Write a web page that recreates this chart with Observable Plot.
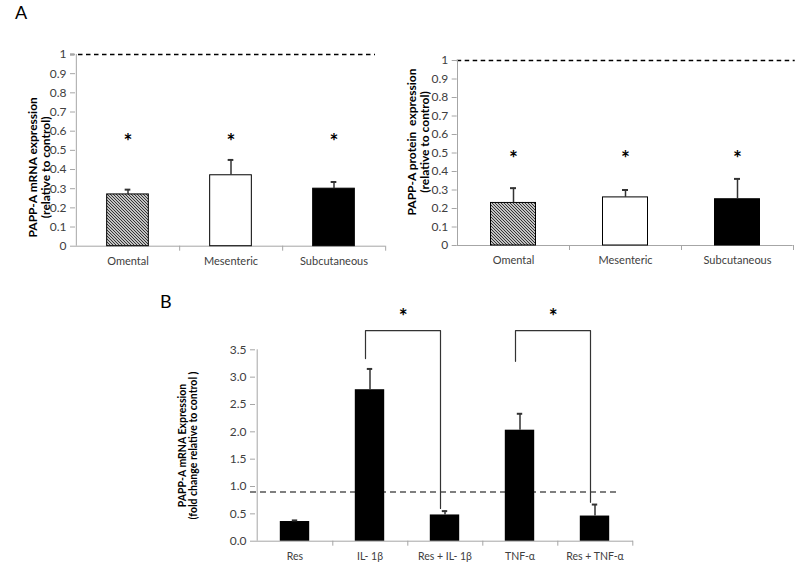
<!DOCTYPE html>
<html><head><meta charset="utf-8">
<script src="https://cdn.jsdelivr.net/npm/d3@7"></script>
<script src="https://cdn.jsdelivr.net/npm/@observablehq/plot@0.6"></script>
<style>
body{margin:0;background:#fff;}
#wrap{position:relative;width:800px;height:571px;font-family:Lato,"Noto Sans",sans-serif;background:#fff;overflow:hidden;}
.panel{position:absolute;}
.lab{position:absolute;font-size:18px;line-height:18px;color:#000;}
</style></head><body>
<div id="wrap">
  <div class="lab" style="left:15px;top:3px;">A</div>
  <div class="lab" style="left:160px;top:292px;">B</div>
</div>
<script>
// ---- data ----
const tissues = ["Omental", "Mesenteric", "Subcutaneous"];
const mrnaMean = [0.27, 0.37, 0.30];
const mrnaErr = [0.025, 0.08, 0.035];
const proteinMean = [0.23, 0.26, 0.25];
const proteinErr = [0.08, 0.04, 0.11];
const yTicksA = [0, 0.1, 0.2, 0.3, 0.4, 0.5, 0.6, 0.7, 0.8, 0.9, 1];

const treatments = ["Res", "IL- 1β", "Res + IL- 1β", "TNF-α", "Res + TNF-α"];
const foldMean = [0.36, 2.77, 0.48, 2.03, 0.46];
const foldErr = [0.02, 0.38, 0.07, 0.30, 0.21];
const yTicksB = [0, 0.5, 1.0, 1.5, 2.0, 2.5, 3.0, 3.5];
const bracketFrom = ["IL- 1β", "TNF-α"];
const bracketTo = ["Res + IL- 1β", "Res + TNF-α"];
const bracketStartY = [3.34, 3.29];
const bracketEndY = [0.60, 0.71];
const bracketTopY = 3.85;
const starYB = 4.1;
const referenceA = 1;
const referenceB = 0.9;

const FONT = "Lato, 'Noto Sans', sans-serif";
const wrap = document.getElementById("wrap");

function addHatch(svg, id) {
  d3.select(svg).insert("defs", ":first-child").html(
    `<pattern id="${id}" width="3" height="3" patternUnits="userSpaceOnUse">` +
    `<rect width="3" height="3" fill="#fff"/>` +
    `<path d="M-1,-1 L4,4 M-1,2 L1,4 M2,-1 L4,1" stroke="#2a2a2a" stroke-width="1.1"/></pattern>`);
}

function place(node, left, top) {
  node.classList.add("panel");
  node.style.left = left + "px";
  node.style.top = top + "px";
  wrap.appendChild(node);
}

function panelA({means, errs, hatchId, left, width, height, mL, mR, mT, mB, title, titleDx, titleDy, starY, barW, dashInsetL, dashInsetR}) {
  const data = tissues.map((t, i) => ({t, v: means[i], e: errs[i]}));
  const step = (width - mL - mR) / tissues.length;
  const inset = (step - barW) / 2;
  const frameH = height - mT - mB;
  const svg = Plot.plot({
    width, height, marginLeft: mL, marginRight: mR, marginTop: mT, marginBottom: mB,
    style: {fontFamily: FONT, background: "transparent", overflow: "visible"},
    x: {domain: tissues, padding: 0},
    y: {domain: [0, 1]},
    color: {domain: tissues, range: [`url(#${hatchId})`, "white", "black"]},
    marks: [
      Plot.ruleY([referenceA], {stroke: "#000", strokeWidth: 1.3, strokeDasharray: "4.5,3.5", insetLeft: dashInsetL, insetRight: dashInsetR}),
      Plot.ruleY([0], {stroke: "#a6a6a6", strokeWidth: 1}),
      Plot.ruleX([tissues[0]], {dx: -step / 2, y1: 0, y2: 1, stroke: "#a6a6a6", strokeWidth: 1}),
      Plot.ruleX(tissues, {x: d => d, dx: step / 2, y1: 0, y2: -5 / frameH, stroke: "#a6a6a6"}),
      Plot.barY(data, {x: "t", y: "v", fill: "t", stroke: "#000", strokeWidth: 1, insetLeft: inset, insetRight: inset}),
      Plot.ruleX(data, {x: "t", y1: "v", y2: d => d.v + d.e, stroke: "#333", strokeWidth: 1.5}),
      Plot.tickY(data, {x: "t", y: d => d.v + d.e, stroke: "#333", strokeWidth: 2, insetLeft: step / 2 - 3, insetRight: step / 2 - 3}),
      Plot.text(data, {x: "t", y: () => starY, text: () => "*", fontSize: 21, fontWeight: "bold", fill: "black"}),
      Plot.axisY({ticks: yTicksA, tickFormat: d => `${d}`, tickSize: 5, tickPadding: 4, stroke: "#a6a6a6", fill: "#404040", fontSize: 12, label: null}),
      Plot.axisX({tickSize: 0, tickPadding: 11, fill: "#404040", fontSize: 11, label: null}),
      Plot.text([title], {text: d => d, frameAnchor: "left", textAnchor: "middle", rotate: -90, dx: titleDx, dy: titleDy, fontSize: 12, fontWeight: "bold", lineHeight: 1.1, fill: "#000"})
    ]
  });
  addHatch(svg, hatchId);
  place(svg, left, 0);
}

panelA({means: mrnaMean, errs: mrnaErr, hatchId: "hatchL", left: 0, width: 400, height: 290,
  mL: 75, mR: 15, mT: 54, mB: 44.3, title: "PAPP-A mRNA expression\n(relative to control)",
  titleDx: -36.5, titleDy: 17, starY: 0.54, barW: 42, dashInsetL: -5, dashInsetR: 10});

panelA({means: proteinMean, errs: proteinErr, hatchId: "hatchR", left: 400, width: 400, height: 290,
  mL: 56.7, mR: 7.3, mT: 60, mB: 45, title: "PAPP-A protein  expression\n(relative to control)",
  titleDx: -39.2, titleDy: -11, starY: 0.465, barW: 45, dashInsetL: 0, dashInsetR: -2});

// ---- panel B ----
(function () {
  const width = 500, height = 281, mL = 105, mR = 17, mT = 59.3, mB = 30.3;
  const step = (width - mL - mR) / treatments.length;
  const barW = 30, inset = (step - barW) / 2;
  const frameH = height - mT - mB;
  const unitsPerPx = 3.5 / frameH;
  const data = treatments.map((t, i) => ({t, v: foldMean[i], e: foldErr[i]}));
  const brackets = bracketFrom.flatMap((f, i) => [
    {k: i, x: f, y: bracketStartY[i]},
    {k: i, x: f, y: bracketTopY},
    {k: i, x: bracketTo[i], y: bracketTopY},
    {k: i, x: bracketTo[i], y: bracketEndY[i]}
  ]);
  const svg = Plot.plot({
    width, height, marginLeft: mL, marginRight: mR, marginTop: mT, marginBottom: mB,
    style: {fontFamily: FONT, background: "transparent", overflow: "visible"},
    x: {domain: treatments, padding: 0},
    y: {domain: [0, 3.5]},
    marks: [
      Plot.ruleY([referenceB], {stroke: "#555", strokeWidth: 1.6, strokeDasharray: "6,4", insetLeft: -5, insetRight: 15}),
      Plot.ruleY([0], {stroke: "#a6a6a6"}),
      Plot.ruleX([treatments[0]], {dx: -step / 2, y1: 0, y2: 3.5, stroke: "#a6a6a6"}),
      Plot.ruleX(treatments, {x: d => d, dx: step / 2, y1: 0, y2: -5 * unitsPerPx, stroke: "#a6a6a6"}),
      Plot.barY(data, {x: "t", y: "v", fill: "#000", insetLeft: inset, insetRight: inset}),
      Plot.ruleX(data, {x: "t", y1: "v", y2: d => d.v + d.e, stroke: "#333", strokeWidth: 1.5}),
      Plot.tickY(data, {x: "t", y: d => d.v + d.e, stroke: "#333", strokeWidth: 2, insetLeft: step / 2 - 3, insetRight: step / 2 - 3}),
      Plot.line(brackets, {x: "x", y: "y", z: "k", stroke: "#333", strokeWidth: 1.2, dx: -4.5, curve: "linear"}),
      Plot.text(bracketFrom, {x: d => d, y: () => starYB, dx: step / 2 - 4.5, text: () => "*", fontSize: 21, fontWeight: "bold", fill: "black"}),
      Plot.axisY({ticks: yTicksB, tickFormat: d3.format(".1f"), tickSize: 5, tickPadding: 4, stroke: "#a6a6a6", fill: "#404040", fontSize: 12, label: null}),
      Plot.axisX({tickSize: 0, tickPadding: 11, fill: "#404040", fontSize: 10.5, label: null}),
      Plot.text(["PAPP-A mRNA Expression\n(fold change relative to control )"], {text: d => d, frameAnchor: "left", textAnchor: "middle", rotate: -90, dx: -67.5, dy: 0, fontSize: 10.5, fontWeight: "bold", lineHeight: 1.05, fill: "#000"})
    ]
  });
  place(svg, 150, 290);
})();
</script>
</body></html>
